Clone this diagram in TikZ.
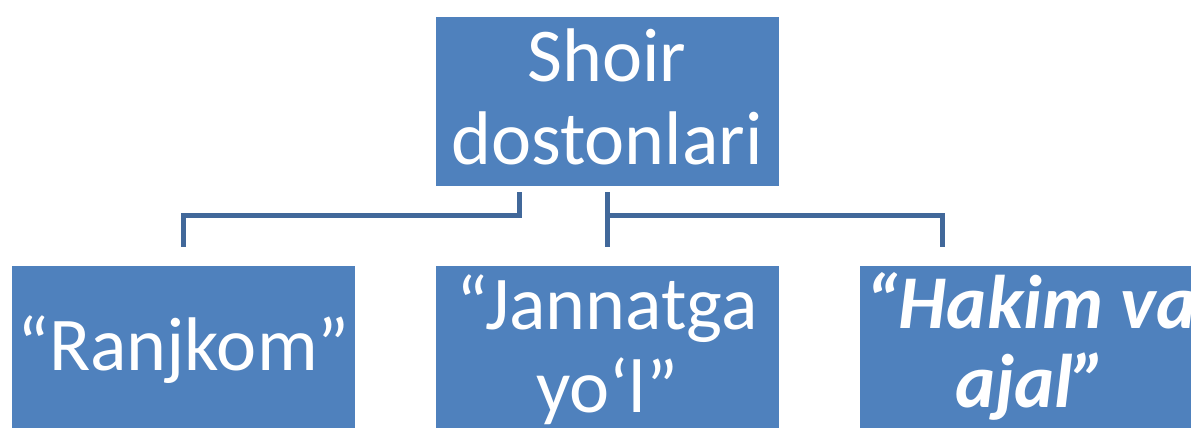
\documentclass[tikz,border=0pt]{standalone}
\usepackage{fontspec}
\setmainfont{Carlito}
\usetikzlibrary{calc}
\definecolor{boxblue}{HTML}{4F81BD}
\definecolor{linkblue}{HTML}{41689A}
\tikzset{
  boxnode/.style={rectangle, fill=boxblue, draw=white, line width=0.6pt, minimum width=344pt, minimum height=170pt,
    text=white, align=center, inner sep=0pt,
    font=\fontsize{76}{83}\selectfont},
  conn/.style={draw=linkblue, line width=5pt, line join=miter}
}
\begin{document}
\begin{tikzpicture}[x=1pt,y=-1pt]
\useasboundingbox (0,0) rectangle (1191,428);
\clip (0,0) rectangle (1191,428);
\node[boxnode, text height=146pt, text depth=20pt] (top) at (607,101) {Shoir\\dostonlari};
\node[boxnode, text height=60pt, text depth=20pt] (left) at (183.5,350) {“Ranjkom”};
\node[boxnode, text height=144pt, text depth=20pt] (mid) at (607,350) {“Jannatga\\yo‘l”};
\node[boxnode, text height=140pt, text depth=26pt, font=\fontsize{76}{79}\selectfont\bfseries\itshape] (right) at (1031,350) {“Hakim va\\ajal”};
\coordinate (lsplit) at ($(top.south)+(-88,6)$);
\coordinate (rsplit) at ($(top.south)+(0,6)$);
\coordinate (rend) at ($(right.north)+(-89,-18)$);
\draw[conn] (lsplit) -- ++(0,23) -| ($(left.north)+(0,-18)$);
\draw[conn] (rsplit) -- ($(mid.north)+(0,-18)$);
\draw[conn] ($(rsplit)+(0,23)$) -| (rend);
\end{tikzpicture}
\end{document}
